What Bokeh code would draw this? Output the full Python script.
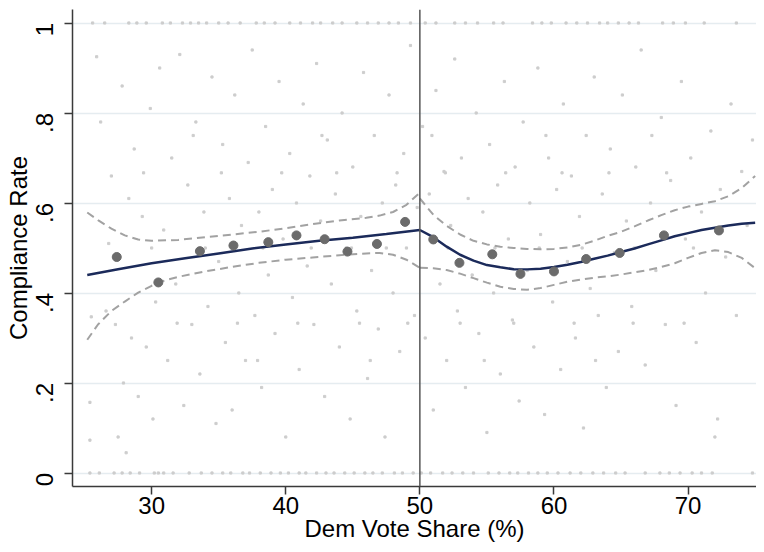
import math
from bokeh.plotting import figure
from bokeh.models import Range1d, FixedTicker, Span
from bokeh.embed import file_html
from bokeh.resources import INLINE

# ---- data ----
bin_x = [27.4, 30.5, 33.6, 36.1, 38.7, 40.8, 42.9, 44.6, 46.8, 48.9,
         51.0, 52.95, 55.4, 57.5, 60.0, 62.4, 64.9, 68.2, 72.3]
bin_y = [0.480, 0.4235, 0.493, 0.5055, 0.513, 0.528, 0.5195, 0.492, 0.509, 0.558,
         0.519, 0.467, 0.486, 0.4425, 0.448, 0.4755, 0.489, 0.528, 0.539]

fit_left_x = [25.2, 27.5, 30, 32.5, 35, 37.5, 40, 42.5, 45, 47.5, 50]
fit_left_y = [0.440, 0.453, 0.466, 0.477, 0.488, 0.499, 0.508, 0.516, 0.523, 0.531, 0.540]

fit_right_x = [50, 51, 52, 53, 54, 55, 56, 57, 58, 59, 60, 61, 62, 63, 64, 65, 66,
               67, 68, 69, 70, 71, 72, 73, 74, 75]
fit_right_y = [0.540, 0.524, 0.503, 0.485, 0.472, 0.462, 0.457, 0.453, 0.4525, 0.454,
               0.458, 0.463, 0.469, 0.476, 0.483, 0.491, 0.499, 0.508, 0.517, 0.526,
               0.533, 0.540, 0.545, 0.550, 0.554, 0.556]

ci_left_up_x = [25.2, 26, 27, 28, 29, 30, 32, 34, 36, 38, 40, 42, 44, 46, 47, 48, 49, 50]
ci_left_up_y = [0.579, 0.562, 0.543, 0.528, 0.519, 0.516, 0.518, 0.524, 0.530, 0.536,
                0.544, 0.553, 0.561, 0.567, 0.572, 0.580, 0.596, 0.623]
ci_left_lo_x = [25.2, 26, 27, 28, 29, 30, 31, 32, 34, 36, 38, 40, 42, 44, 46, 47, 48, 49, 50]
ci_left_lo_y = [0.296, 0.330, 0.360, 0.381, 0.401, 0.416, 0.428, 0.436, 0.448, 0.458,
                0.467, 0.474, 0.479, 0.484, 0.488, 0.489, 0.485, 0.474, 0.456]

ci_right_x = [50, 51, 52, 53, 54, 55, 56, 57, 58, 59, 60, 61, 62, 63, 64, 65, 66,
              67, 68, 69, 70, 71, 72, 73, 74, 75]
ci_right_up_y = [0.610, 0.574, 0.549, 0.530, 0.516, 0.508, 0.503, 0.500, 0.498, 0.497,
                 0.498, 0.501, 0.507, 0.516, 0.527, 0.536, 0.548, 0.561, 0.573, 0.584,
                 0.592, 0.598, 0.604, 0.615, 0.633, 0.660]
ci_right_lo_y = [0.456, 0.455, 0.451, 0.443, 0.433, 0.423, 0.414, 0.409, 0.407, 0.411,
                 0.418, 0.425, 0.430, 0.434, 0.437, 0.441, 0.446, 0.451, 0.458, 0.466,
                 0.478, 0.489, 0.495, 0.491, 0.478, 0.455]

# raw observations (hand-estimated subset of the faint background cloud)
raw_row1_x = [25.6, 26.5, 28.3, 28.9, 29.6, 30.8, 31.4, 32.3, 32.9, 33.5, 34.1, 35.0,
              35.7, 36.6, 37.8, 38.4, 39.2, 40.3, 41.1, 42.0, 42.6, 43.5, 44.2, 45.3,
              46.1, 46.9, 47.7, 48.4, 49.3, 50.4, 51.2, 52.6, 53.4, 54.3, 55.5, 56.2,
              58.4, 59.1, 59.8, 60.9, 61.7, 62.5, 63.4, 64.0, 64.8, 65.6, 66.3, 68.1,
              68.9, 69.8, 71.2, 73.6]
raw_row0_x = [25.4, 26.1, 27.2, 27.8, 28.4, 29.1, 30.2, 30.5, 30.9, 31.6, 32.8, 33.7,
              34.5, 35.3, 35.9, 36.8, 37.3, 38.1, 38.9, 39.6, 40.2, 41.0, 41.5, 42.3,
              43.0, 43.6, 44.4, 45.1, 45.9, 46.5, 47.2, 48.1, 48.7, 49.5, 50.1, 50.8,
              51.7, 52.4, 53.2, 54.0, 55.1, 55.9, 56.7, 57.3, 58.1, 58.8, 59.5, 60.3,
              61.2, 62.0, 62.9, 63.7, 64.6, 65.3, 66.8, 67.9, 68.6, 69.4, 70.3, 71.0,
              71.8, 74.8]
raw_x = [25.4, 25.4, 25.5, 25.9, 26.2, 26.6, 26.8, 27.0, 27.3, 27.5, 27.8, 27.9, 28.1,
         28.3, 28.5, 28.7, 29.0, 29.3, 29.6, 29.9, 30.1, 30.3, 30.6, 30.9, 31.2, 31.5,
         31.8, 32.1, 32.4, 32.7, 33.0, 33.3, 33.6, 33.9, 34.2, 34.5, 34.8, 35.0,
         35.3, 35.5, 35.8, 36.0, 36.2, 36.5, 36.7, 37.0, 37.2, 37.5, 37.7, 38.0, 38.2,
         38.5, 38.7, 39.0, 39.2, 39.5, 39.8, 40.0, 40.3, 40.5, 40.8, 41.0, 41.3, 41.6,
         41.8, 42.1, 42.3, 42.6, 42.9, 43.1, 43.4, 43.7, 44.0, 44.2, 44.5, 44.8, 45.0,
         45.3, 45.6, 45.8, 46.1, 46.4, 46.6, 46.9, 47.2, 47.4, 47.7, 48.0, 48.2, 48.5,
         48.8, 49.0, 49.3, 49.6, 49.8,
         50.2, 50.4, 50.7, 51.0, 51.2, 51.5, 51.8, 52.0, 52.3, 52.6, 52.8, 53.1, 53.4,
         53.6, 53.9, 54.2, 54.4, 54.7, 55.0, 55.2, 55.5, 55.8, 56.0, 56.3, 56.6, 56.9,
         57.1, 57.4, 57.7, 58.0, 58.2, 58.5, 58.8, 59.0, 59.3, 59.6, 59.9, 60.2, 60.5,
         60.7, 61.0, 61.3, 61.6, 61.9, 62.2, 62.4, 62.7, 63.0, 63.3, 63.6, 63.9, 64.2,
         64.5, 64.8,
         65.1, 65.4, 65.8, 66.1, 66.5, 66.8, 67.2, 67.6, 68.0, 68.3, 68.7, 69.1, 69.5,
         69.8, 70.2, 70.6, 71.0, 71.3, 71.7, 72.0, 72.2, 72.4, 72.8, 73.2, 73.6, 74.0,
         74.4, 74.8,
         30.0, 34.0, 38.3, 41.9, 44.9, 47.5, 52.1, 55.6, 58.9, 62.1, 66.0, 70.4,
         31.9, 36.4, 40.9, 45.5, 49.1, 53.0, 57.0, 61.5, 65.9, 69.7,
         29.4, 35.2, 39.7, 43.8, 48.3, 51.9, 56.4, 60.6, 64.1, 68.4,
         33.1, 37.9, 42.7, 46.3, 50.9, 54.8, 59.4, 63.1, 67.3]
raw_y = [0.157, 0.073, 0.347, 0.925, 0.78, 0.36, 0.51, 0.66, 0.33, 0.08, 0.86, 0.20, 0.045,
         0.61, 0.30, 0.72, 0.17, 0.57, 0.28, 0.81, 0.12, 0.38, 0.90, 0.54, 0.25, 0.70,
         0.42, 0.93, 0.15, 0.64, 0.33, 0.78, 0.22, 0.58, 0.37, 0.88, 0.11, 0.47,
         0.73, 0.29, 0.61, 0.14, 0.84, 0.40, 0.55, 0.25, 0.69, 0.94, 0.35, 0.58, 0.19,
         0.77, 0.44, 0.63, 0.31, 0.87, 0.52, 0.08, 0.71, 0.39, 0.60, 0.23, 0.82, 0.46,
         0.66, 0.33, 0.91, 0.56, 0.17, 0.74, 0.42, 0.62, 0.28, 0.80, 0.50, 0.12, 0.68,
         0.36, 0.57, 0.89, 0.21, 0.45, 0.75, 0.32, 0.60, 0.08, 0.84, 0.40, 0.64, 0.27,
         0.71, 0.50, 0.95, 0.35, 0.59,
         0.77, 0.30, 0.62, 0.14, 0.85, 0.42, 0.67, 0.25, 0.55, 0.92, 0.36, 0.70, 0.19,
         0.61, 0.44, 0.80, 0.31, 0.58, 0.09, 0.73, 0.40, 0.64, 0.22, 0.87, 0.52, 0.34,
         0.68, 0.16, 0.78, 0.45, 0.60, 0.28, 0.90, 0.53, 0.13, 0.70, 0.38, 0.63, 0.23,
         0.82, 0.47, 0.66, 0.30, 0.57, 0.10, 0.75, 0.41, 0.88, 0.35, 0.62, 0.19, 0.72,
         0.49, 0.27,
         0.84, 0.56, 0.37, 0.68, 0.94, 0.24, 0.60, 0.45, 0.79, 0.33, 0.65, 0.15, 0.87,
         0.52, 0.70, 0.29, 0.58, 0.40, 0.76, 0.08, 0.12, 0.63, 0.48, 0.82, 0.35, 0.67,
         0.55, 0.74,
         0.5, 0.5, 0.5, 0.5, 0.5, 0.5, 0.5, 0.5, 0.5, 0.5, 0.5, 0.5,
         0.333, 0.333, 0.333, 0.333, 0.333, 0.333, 0.333, 0.333, 0.333, 0.333,
         0.667, 0.667, 0.667, 0.667, 0.667, 0.667, 0.667, 0.667, 0.667, 0.667,
         0.75, 0.25, 0.75, 0.25, 0.75, 0.25, 0.75, 0.25, 0.75]

x_ticks = [30, 40, 50, 60, 70]
y_ticks = [0, 0.2, 0.4, 0.6, 0.8, 1.0]
y_tick_labels = ["0", ".2", ".4", ".6", ".8", "1"]
cutoff = 50

FONT = "Liberation Sans"
NAVY = "#1b2a5a"
CI_GRAY = "#a2a2a2"
DOT_GRAY = "#6b6b6b"
RAW_GRAY = "#cdcdcd"

p = figure(width=756, height=544, x_range=Range1d(24.1, 75.1), y_range=Range1d(-0.03, 1.03),
           output_backend="svg", toolbar_location=None,
           min_border_left=72, min_border_right=0, min_border_top=9, min_border_bottom=10)
p.outline_line_color = None
p.background_fill_color = "white"
p.border_fill_color = "white"

# grid
p.xgrid.visible = False
p.ygrid.ticker = FixedTicker(ticks=y_ticks)
p.ygrid.grid_line_color = "#e5ecf0"
p.ygrid.grid_line_width = 1.5

# axes
for ax in (p.xaxis[0], p.yaxis[0]):
    ax.major_tick_out = 8
    ax.major_tick_in = 0
    ax.minor_tick_line_color = None
    ax.axis_line_color = "#3a3a3a"
    ax.axis_line_width = 1.5
    ax.major_tick_line_color = "#3a3a3a"
    ax.major_tick_line_width = 1.5
    ax.major_label_text_font = FONT
    ax.major_label_text_font_size = "24px"
    ax.major_label_text_color = "black"
    ax.axis_label_text_font = FONT
    ax.axis_label_text_font_size = "24px"
    ax.axis_label_text_font_style = "normal"
    ax.axis_label_text_color = "black"

p.xaxis.ticker = FixedTicker(ticks=x_ticks)
p.xaxis.axis_label = "Dem Vote Share (%)"
p.xaxis.major_label_standoff = 2
p.xaxis.axis_label_standoff = -2

p.yaxis.ticker = FixedTicker(ticks=y_ticks)
p.yaxis.major_label_overrides = {t: s for t, s in zip(y_ticks, y_tick_labels)}
p.yaxis.major_label_orientation = math.pi / 2
p.yaxis.axis_label = "Compliance Rate"
p.yaxis.major_label_standoff = 20
p.yaxis.axis_label_standoff = -7

# raw data cloud
p.scatter(raw_row1_x, [1.0] * len(raw_row1_x), size=2.2, color=RAW_GRAY, marker="square")
p.scatter(raw_row0_x, [0.0] * len(raw_row0_x), size=2.2, color=RAW_GRAY, marker="square")
p.scatter(raw_x, raw_y, size=2.2, color=RAW_GRAY, marker="square")

# confidence bands
for xs, ys in ((ci_left_up_x, ci_left_up_y), (ci_left_lo_x, ci_left_lo_y),
               (ci_right_x, ci_right_up_y), (ci_right_x, ci_right_lo_y)):
    p.line(xs, ys, line_color=CI_GRAY, line_width=2, line_dash="8 5")

# fits
p.line(fit_left_x, fit_left_y, line_color=NAVY, line_width=2.5)
p.line(fit_right_x, fit_right_y, line_color=NAVY, line_width=2.5)

# bin means
p.scatter(bin_x, bin_y, size=9, color=DOT_GRAY)

# cutoff line
p.add_layout(Span(location=cutoff, dimension="height", line_color="#555555", line_width=1.5))

open("out.html", "w").write(file_html(p, INLINE))
